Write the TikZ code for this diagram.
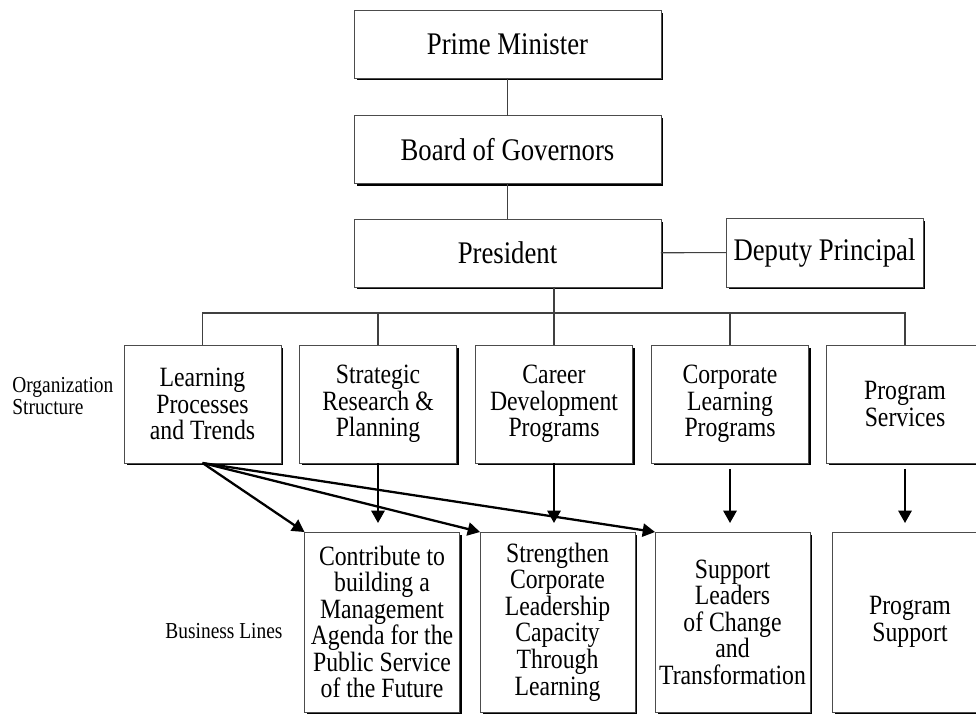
\documentclass[tikz,border=0pt]{standalone}
\usepackage{fontspec}
\setmainfont{Liberation Serif}[FakeStretch=0.85]
\usetikzlibrary{arrows.meta,shadows}

\begin{document}
\begin{tikzpicture}[x=0.02cm, y=-0.02cm, >={Triangle[length=7pt,width=7.5pt]},
  box/.style={draw=black!70, line width=0.5pt, fill=white, align=center, inner sep=0pt, outer sep=0pt,
    drop shadow={shadow xshift=0.05cm, shadow yshift=-0.05cm, fill=black, opacity=1}},
  headbox/.style={box, minimum width=6.14cm, minimum height=1.36cm, font=\fontsize{17.9}{18}\selectfont},
  unitbox/.style={box, minimum width=3.14cm, minimum height=2.36cm, font=\fontsize{15.9}{15.1}\selectfont},
  bizbox/.style={box, minimum width=3.1cm, minimum height=3.6cm, font=\fontsize{15.9}{15.1}\selectfont},
  link/.style={draw=black!75, line width=0.6pt},
  feed/.style={->, line width=1.3pt}]
  \useasboundingbox (0,0) rectangle (976,716);
  \clip (0,0) rectangle (976,716);
  
  \node[headbox] (PM) at (507.5,44) {Prime Minister};
  \node[headbox] (BG) at (507.5,149.5) {Board of Governors};
  \node[headbox] (PR) at (507.5,253) {President};
  \node[box, minimum width=3.94cm, minimum height=1.38cm, font=\fontsize{17.9}{18}\selectfont] (DP) at (824.5,252.5) {Deputy Principal};
  \draw[link] (PM) -- (BG);
  \draw[link] (BG) -- (PR);
  \draw[link] (PR) -- (DP);
  
  \node[unitbox] (LT) at (202.5,404) {Learning\\Processes\\and Trends};
  \node[unitbox] (SR) at (378,404) {Strategic\\Research \&\\Planning};
  \node[unitbox] (CD) at (554,404) {Career\\Development\\Programs};
  \node[unitbox] (CL) at (730,404) {Corporate\\Learning\\Programs};
  \node[unitbox] (PS) at (905,404) {Program\\Services};
  \coordinate (bus) at (0,313);
  \draw[link] (PR.south -| CD.north) -- (CD.north);
  \draw[link] (LT.north) |- (bus -| PS.north) -- (PS.north);
  \draw[link] (SR.north) -- (SR.north |- bus);
  \draw[link] (CL.north) -- (CL.north |- bus);
  
  \node[bizbox] (MA) at (382,622) {Contribute to\\building a\\Management\\Agenda for the\\Public Service\\of the Future};
  \node[bizbox] (LC) at (557.5,622) {Strengthen\\Corporate\\Leadership\\Capacity\\Through\\Learning};
  \node[bizbox] (CT) at (732.5,622) {Support\\Leaders\\of Change\\and\\Transformation};
  \node[bizbox] (SP) at (910,622) {Program\\Support};
  
  \draw[feed] (LT.south) -- (MA.north west);
  \draw[feed] (LT.south) -- (LC.north west);
  \draw[feed] (LT.south) -- (CT.north west);
  \draw[feed, shorten >=0.18cm] (SR.south) -- (SR.south |- MA.north);
  \draw[feed, shorten >=0.18cm] (CD.south) -- (CD.south |- LC.north);
  \draw[feed, shorten <=0.12cm, shorten >=0.18cm] (CL.south) -- (CL.south |- CT.north);
  \draw[feed, shorten <=0.12cm, shorten >=0.18cm] (PS.south) -- (PS.south |- SP.north);
  
  \node[anchor=west, align=left, inner sep=0pt, font=\fontsize{13}{12.5}\selectfont] (OS) at (12,396) {Organization\\Structure};
  \node[font=\fontsize{13}{12.5}\selectfont] (BL) at (224,631) {Business Lines};
\end{tikzpicture}
\end{document}
